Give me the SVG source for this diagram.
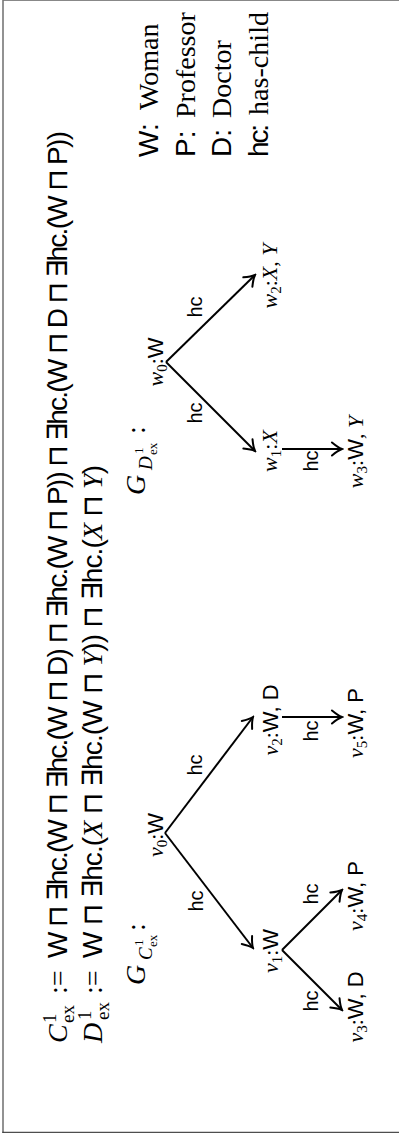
<svg xmlns="http://www.w3.org/2000/svg" width="399" height="1134" viewBox="0 0 399 1134">
<defs>
<style>
.sf{font-family:"Liberation Sans","DejaVu Sans",sans-serif;}
.rm{font-family:"Liberation Serif","DejaVu Serif",serif;}
.it{font-family:"Liberation Serif","DejaVu Serif",serif;font-style:italic;}
.f{font-size:28px;}
.n{font-size:22px;}
.s{font-size:15px;}
.e{font-size:20px;font-family:"Liberation Sans","DejaVu Sans",sans-serif;}
.edge{stroke:#000;stroke-width:2;fill:none;marker-end:url(#arr);}
text{fill:#000;}
</style>
<marker id="arr" markerUnits="userSpaceOnUse" viewBox="-12 -8 14 16" refX="0" refY="0" markerWidth="14" markerHeight="16" orient="auto">
<path d="M-10,-6.5 Q-4,-1.5 0,0 Q-4,1.5 -10,6.5" stroke="#000" stroke-width="2" fill="none" stroke-linecap="round"/>
</marker>
</defs>
<rect width="399" height="1134" fill="#fff"/>
<g id="frame" fill="none">
<line x1="3" y1="0.5" x2="399" y2="0.5" stroke="#888" stroke-width="1"/>
<line x1="3" y1="0" x2="3" y2="1132.5" stroke="#777" stroke-width="1.6"/>
<line x1="2.2" y1="1132.3" x2="399" y2="1132.3" stroke="#222" stroke-width="1"/>
</g>
<g id="formulas" transform="translate(0,1134) rotate(-90)">
<text class="it f" x="91" y="67">C</text>
<text class="rm" font-size="19" x="111" y="56">1</text>
<text class="rm" font-size="19" x="111" y="74">ex</text>
<text class="rm f" x="140" y="67">:=</text>
<text class="sf f" x="176" y="67" textLength="827">W ⊓ ∃hc.(W ⊓ ∃hc.(W ⊓ D) ⊓ ∃hc.(W ⊓ P)) ⊓ ∃hc.(W ⊓ D ⊓ ∃hc.(W ⊓ P))</text>
<text class="it f" x="91" y="102">D</text>
<text class="rm" font-size="19" x="114" y="91">1</text>
<text class="rm" font-size="19" x="114" y="109">ex</text>
<text class="rm f" x="140" y="102">:=</text>
<text class="sf f" x="176" y="102" textLength="493">W ⊓ ∃hc.(<tspan class="it">X</tspan> ⊓ ∃hc.(W ⊓ <tspan class="it">Y</tspan>)) ⊓ ∃hc.(<tspan class="it">X</tspan> ⊓ <tspan class="it">Y</tspan>)</text>
</g>
<g id="graph-labels" transform="translate(0,1134) rotate(-90)">
<g id="label-GC">
<text class="it f" x="149" y="145">G</text>
<text class="it" font-size="19" x="174" y="152">C</text>
<text class="rm" font-size="13" x="188" y="143">1</text>
<text class="rm" font-size="13" x="187" y="157">ex</text>
<text class="rm f" x="203" y="145">:</text>
</g>
<g id="label-GD">
<text class="it f" x="639" y="145">G</text>
<text class="it" font-size="19" x="664" y="152">D</text>
<text class="rm" font-size="13" x="680" y="143">1</text>
<text class="rm" font-size="13" x="679" y="157">ex</text>
<text class="rm f" x="700" y="145">:</text>
</g>
</g>
<g id="edges">
<line class="edge" x1="165" y1="833" x2="253" y2="948"/>
<line class="edge" x1="165" y1="833" x2="253" y2="717"/>
<line class="edge" x1="282" y1="950" x2="342" y2="1010"/>
<line class="edge" x1="282" y1="950" x2="342" y2="890"/>
<line class="edge" x1="282" y1="717" x2="342" y2="717"/>
<line class="edge" x1="166" y1="362" x2="255" y2="451"/>
<line class="edge" x1="166" y1="362" x2="255" y2="275"/>
<line class="edge" x1="282" y1="449" x2="342" y2="449"/>
</g>
<g id="edge-labels" transform="translate(0,1134) rotate(-90)">
<text class="e" x="233" y="203" text-anchor="middle">hc</text>
<text class="e" x="369" y="202" text-anchor="middle">hc</text>
<text class="e" x="133" y="318" text-anchor="middle">hc</text>
<text class="e" x="240" y="318" text-anchor="middle">hc</text>
<text class="e" x="403" y="318" text-anchor="middle">hc</text>
<text class="e" x="721" y="202" text-anchor="middle">hc</text>
<text class="e" x="827" y="202" text-anchor="middle">hc</text>
<text class="e" x="673" y="318" text-anchor="middle">hc</text>
</g>
<g id="nodes" transform="translate(0,1134) rotate(-90)">
<g id="v0"><text class="n" x="299" y="163" text-anchor="middle"><tspan class="it">v</tspan><tspan class="rm s" dy="4">0</tspan><tspan class="rm" dy="-4">:</tspan><tspan class="sf">W</tspan></text></g>
<g id="v1"><text class="n" x="183" y="278" text-anchor="middle"><tspan class="it">v</tspan><tspan class="rm s" dy="4">1</tspan><tspan class="rm" dy="-4">:</tspan><tspan class="sf">W</tspan></text></g>
<g id="v2"><text class="n" x="414" y="278" text-anchor="middle"><tspan class="it">v</tspan><tspan class="rm s" dy="4">2</tspan><tspan class="rm" dy="-4">:</tspan><tspan class="sf">W, D</tspan></text></g>
<g id="v3"><text class="n" x="127" y="363" text-anchor="middle"><tspan class="it">v</tspan><tspan class="rm s" dy="4">3</tspan><tspan class="rm" dy="-4">:</tspan><tspan class="sf">W, D</tspan></text></g>
<g id="v4"><text class="n" x="238" y="363" text-anchor="middle"><tspan class="it">v</tspan><tspan class="rm s" dy="4">4</tspan><tspan class="rm" dy="-4">:</tspan><tspan class="sf">W, P</tspan></text></g>
<g id="v5"><text class="n" x="411" y="363" text-anchor="middle"><tspan class="it">v</tspan><tspan class="rm s" dy="4">5</tspan><tspan class="rm" dy="-4">:</tspan><tspan class="sf">W, P</tspan></text></g>
<g id="w0"><text class="n" x="772" y="163" text-anchor="middle"><tspan class="it">w</tspan><tspan class="rm s" dy="4">0</tspan><tspan class="rm" dy="-4">:</tspan><tspan class="sf">W</tspan></text></g>
<g id="w1"><text class="n" x="683" y="277" text-anchor="middle"><tspan class="it">w</tspan><tspan class="rm s" dy="4">1</tspan><tspan class="rm" dy="-4">:</tspan><tspan class="it">X</tspan></text></g>
<g id="w2"><text class="n" x="858" y="277" text-anchor="middle"><tspan class="it">w</tspan><tspan class="rm s" dy="4">2</tspan><tspan class="rm" dy="-4">:</tspan><tspan class="it">X</tspan><tspan class="rm">, </tspan><tspan class="it">Y</tspan></text></g>
<g id="w3"><text class="n" x="682" y="363" text-anchor="middle"><tspan class="it">w</tspan><tspan class="rm s" dy="4">3</tspan><tspan class="rm" dy="-4">:</tspan><tspan class="sf">W</tspan><tspan class="rm">, </tspan><tspan class="it">Y</tspan></text></g>
</g>
<g id="legend" transform="translate(0,1134) rotate(-90)">
<text class="sf f" x="977" y="158">W:</text><text class="rm f" x="1024" y="158">Woman</text>
<text class="sf f" x="977" y="194.5">P:</text><text class="rm f" x="1016" y="194.5">Professor</text>
<text class="sf f" x="977" y="231">D:</text><text class="rm f" x="1016" y="231">Doctor</text>
<text class="sf f" x="977" y="267.5" textLength="33">hc:</text><text class="rm f" x="1019" y="267.5" textLength="103">has-child</text>
</g>
</svg>
